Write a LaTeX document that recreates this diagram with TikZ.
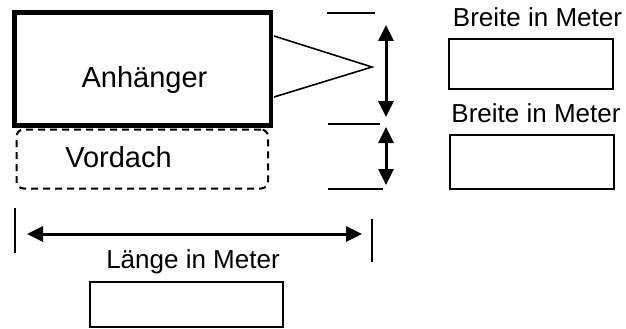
\documentclass[tikz,border=0pt]{standalone}
\usepackage{fontspec}
\setmainfont{Liberation Sans}
\usetikzlibrary{arrows.meta}

\tikzset{
  dimarrow/.style={line width=3pt,{Triangle[length=16pt,width=15pt]}-{Triangle[length=16pt,width=15pt]}},
  dimline/.style={line width=1.4pt},
  inputbox/.style={draw,line width=1.5pt,inner sep=0pt},
  bigtext/.style={anchor=base,inner sep=0pt,font=\fontsize{29}{34}\selectfont},
  smalltext/.style={anchor=base,inner sep=0pt,font=\fontsize{26}{30}\selectfont}
}

\begin{document}
\begin{tikzpicture}[x=1pt,y=-1pt]
          \useasboundingbox (0,0) rectangle (626,329);
          % trailer and canopy
          \node[draw,line width=4.5pt,inner sep=0pt,minimum width=256.5pt,minimum height=113pt] (anh) at (142.75,69) {};
          \node[draw,line width=2pt,dash pattern=on 7pt off 5pt,rounded corners=7pt,inner sep=0pt,minimum width=251.5pt,minimum height=59pt] (dach) at (142.25,159) {};
          \node[bigtext] (anhtext) at (144.5,88) {Anhänger};
          \node[bigtext] (dachtext) at (118.5,167) {Vordach};
          % drawbar
          \coordinate (b1) at (274,36);
          \coordinate (tip) at (372,67);
          \coordinate (b2) at (274,97);
          \draw[line width=1.6pt] (b1) -- (tip) -- (b2);
          % width ticks and arrows
          \coordinate (t1a) at (327,13);  \coordinate (t1b) at (375,13);
          \coordinate (t2a) at (328,124); \coordinate (t2b) at (380,124);
          \coordinate (t3a) at (328,189); \coordinate (t3b) at (383,189);
          \draw[dimline] (t1a) -- (t1b);
          \draw[dimline] (t2a) -- (t2b);
          \draw[dimline] (t3a) -- (t3b);
          \coordinate (w1a) at (386,25);  \coordinate (w1b) at (386,117);
          \coordinate (w2a) at (386,127); \coordinate (w2b) at (386,185);
          \draw[dimarrow] (w1a) -- (w1b);
          \draw[dimarrow] (w2a) -- (w2b);
          % length ticks and arrow
          \coordinate (l1a) at (15,208);  \coordinate (l1b) at (15,253);
          \coordinate (l2a) at (372,219); \coordinate (l2b) at (372,262);
          \draw[dimline] (l1a) -- (l1b);
          \draw[dimline] (l2a) -- (l2b);
          \coordinate (la) at (27,234);
          \coordinate (lb) at (362,234);
          \draw[dimarrow] (la) -- (lb);
          % input fields
          \node[smalltext] (wlabel1) at (537.5,27) {Breite in Meter};
          \node[inputbox,minimum width=164pt,minimum height=50pt] (wbox1) at (531,64) {};
          \node[smalltext] (wlabel2) at (536,122) {Breite in Meter};
          \node[inputbox,minimum width=164pt,minimum height=54pt] (wbox2) at (532,162) {};
          \node[smalltext] (llabel) at (193,268) {Länge in Meter};
          \node[inputbox,minimum width=193pt,minimum height=45pt] (lbox) at (186.5,304.5) {};
        \end{tikzpicture}
\end{document}
